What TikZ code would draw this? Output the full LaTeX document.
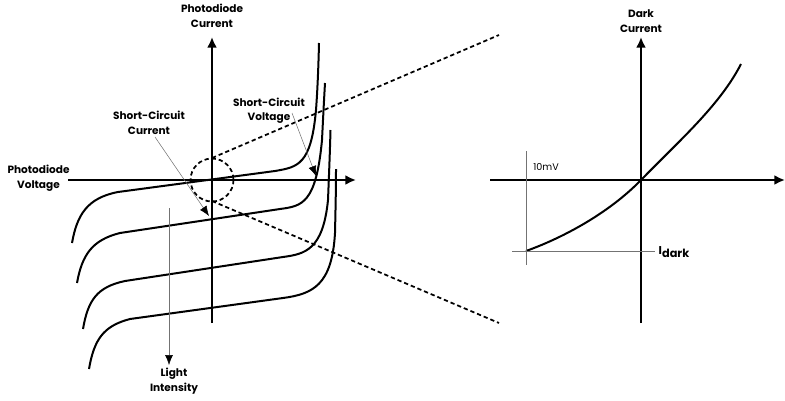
\documentclass[tikz,border=0pt]{standalone}
\usepackage{fontspec}
\setmainfont{Poppins}
\usetikzlibrary{arrows.meta}
\colorlet{lcol}{black!55!white}
\tikzstyle{label}=[font=\fontsize{7.9pt}{10.9pt}\selectfont\bfseries, align=center, inner sep=0pt]
\tikzstyle{axis}=[line width=1.8pt, -{Latex[length=8pt,width=7.5pt]}]
\tikzstyle{iv}=[line width=1.5pt]
\tikzstyle{zoomline}=[line width=1.3pt, dash pattern=on 3.2pt off 2.2pt]
\tikzstyle{leader}=[line width=0.4pt, lcol, -{Latex[length=7.5pt,width=6pt,black]}]
\tikzstyle{thin}=[line width=0.5pt, lcol]

\begin{document}
\begin{tikzpicture}[x=0.75pt, y=-0.75pt]
	\useasboundingbox (0,0) rectangle (785,400);

	% Left axes
	\coordinate (lw) at (68,180);
	\coordinate (le) at (356,180);
	\coordinate (ls) at (212,323);
	\coordinate (ln) at (212,37);
	\draw[axis] (lw)--(le);
	\draw[axis] (ls)--(ln);

	% Diode curves
	\draw[iv] (72,243) .. controls (77,215) and (87,198) .. (118,192) -- (275,171)
		.. controls (298,167) and (311,165) .. (316,110) .. controls (317.5,90) and (318.5,65) .. (319,43);
	\draw[iv] (77,283) .. controls (82,255) and (92,240) .. (120,233) -- (280,209)
		.. controls (302,206) and (316,204) .. (322,140) .. controls (323,120) and (324,100) .. (325,83);
	\draw[iv] (83,329) .. controls (88,300) and (97,287) .. (125,281) -- (283,257)
		.. controls (305,254) and (323,250) .. (328,200) .. controls (329,175) and (330,150) .. (330.5,130);
	\draw[iv] (89,369) .. controls (94,340) and (103,326) .. (130,319) -- (283,298)
		.. controls (313,294) and (332,285) .. (335,233) .. controls (335.5,210) and (336,190) .. (336,169);

	% Zoom marker
	\coordinate (zc) at (212,180);
	\coordinate (zt) at (212,158);
	\coordinate (zb) at (212,201);
	\coordinate (ze) at (499,35);
	\coordinate (zf) at (499,323);
	\draw[zoomline] (zc) circle [radius=21.5];
	\draw[zoomline] (zt)--(ze);
	\draw[zoomline] (zb)--(zf);

	% Right axes
	\coordinate (rw) at (490,180);
	\coordinate (re) at (785,180);
	\coordinate (rs) at (641,323);
	\coordinate (rn) at (641,37);
	\draw[axis] (rw)--(re);
	\draw[axis] (rs)--(rn);
	\draw[iv] (526,251) .. controls (565,237) and (610,212) .. (641,180) .. controls (680,140) and (720,105) .. (741,64);

	% Guides
	\coordinate (gt) at (526.5,151);
	\coordinate (gb) at (526.5,265);
	\coordinate (gl) at (512,251);
	\coordinate (gr) at (655,251);
	\draw[thin] (gt)--(gb);
	\draw[thin] (gl)--(gr);

	% Labels
	\node[label] (pc) at (212,16) {Photodiode\\Current};
	\node[label] (pv) at (38.5,178) {Photodiode\\Voltage};
	\node[label] (sc) at (149,123) {Short-Circuit\\Current};
	\node[label] (sv) at (269,110.5) {Short-Circuit\\Voltage};
	\node[label] (li) at (174,381) {Light\\Intensity};
	\node[label] (dc) at (641,21) {Dark\\Current};
	\node[label, font=\fontsize{7.2pt}{9pt}\selectfont] (mv) at (546,167) {10mV};
	\node[label, font=\fontsize{8.5pt}{9pt}\selectfont\bfseries] (id) at (674,252) {I\raisebox{-2pt}{dark}};

	% Leaders
	\coordinate (sca) at (155,137);
	\coordinate (scb) at (209,216);
	\coordinate (sva) at (292,113);
	\coordinate (svb) at (316,176);
	\coordinate (lia) at (169,208);
	\coordinate (lib) at (169,365);
	\draw[leader] (sca)--(scb);
	\draw[leader] (sva)--(svb);
	\draw[leader] (lia)--(lib);
\end{tikzpicture}
\end{document}
